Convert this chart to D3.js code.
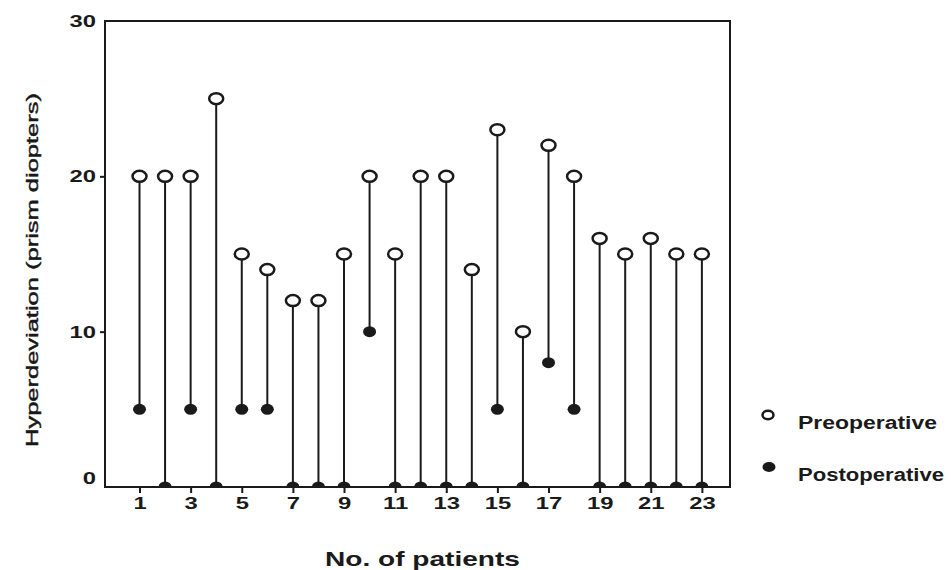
<!DOCTYPE html>
<html><head><meta charset="utf-8">
<script src="https://cdn.jsdelivr.net/npm/d3@7"></script>
<style>
html,body{margin:0;padding:0;background:#fff;}
text{font-family:"Liberation Sans",Arial,sans-serif;fill:#1a1a1a;}
</style></head>
<body>
<svg id="c" width="951" height="570"></svg>
<script>
// Data
const patients = d3.range(1, 24);
const preoperative  = [20,20,20,25,15,14,12,12,15,20,15,20,20,14,23,10,22,20,16,15,16,15,15];
const postoperative = [5,0,5,0,5,5,0,0,0,10,0,0,0,0,5,0,8,5,0,0,0,0,0];
const yTicks = [0,10,20,30];
const xTicks = [1,3,5,7,9,11,13,15,17,19,21,23];
const yTitle = "Hyperdeviation (prism diopters)";
const xTitle = "No. of patients";
const legendLabels = ["Preoperative","Postoperative"];

const svg = d3.select("#c");
const L = 105, R = 730, T = 21, B = 487;
const x = d3.scaleLinear().domain([-0.35, 24.1]).range([L, R]);
const y = d3.scaleLinear().domain([0, 30]).range([B, T]);
const ink = "#1a1a1a";
const stretch = 1.4;

function widen(sel, f){
  sel.each(function(){
    const w = this.getComputedTextLength();
    d3.select(this).attr("textLength", w*f).attr("lengthAdjust","spacingAndGlyphs");
  });
}

svg.append("defs").append("clipPath").attr("id","plot")
  .append("rect").attr("x",L).attr("y",T-20).attr("width",R-L).attr("height",B-T+20);

const g = svg.append("g").attr("clip-path","url(#plot)");
const data = patients.map((p,i)=>({p, pre: preoperative[i], post: postoperative[i]}));

// stems
g.selectAll("line.stem").data(data).join("line")
  .attr("x1",d=>x(d.p)).attr("x2",d=>x(d.p))
  .attr("y1",d=>y(d.pre)).attr("y2",d=>y(d.post))
  .attr("stroke",ink).attr("stroke-width",2);

// postoperative filled
g.selectAll("ellipse.post").data(data).join("ellipse")
  .attr("cx",d=>x(d.p)).attr("cy",d=>y(d.post))
  .attr("rx",6.5).attr("ry",5.5).attr("fill",ink);

// preoperative open
g.selectAll("ellipse.pre").data(data).join("ellipse")
  .attr("cx",d=>x(d.p)).attr("cy",d=>y(d.pre))
  .attr("rx",7).attr("ry",5.5).attr("fill","#fff")
  .attr("stroke",ink).attr("stroke-width",2.5);

// frame
svg.append("rect").attr("x",L).attr("y",T).attr("width",R-L).attr("height",B-T)
  .attr("fill","none").attr("stroke",ink).attr("stroke-width",2);

// axes
const ya = svg.append("g").attr("transform",`translate(${L},0)`)
  .call(d3.axisLeft(y).tickValues(yTicks).tickSize(5).tickPadding(4).tickFormat(d3.format("d")));
ya.select(".domain").remove();
ya.selectAll(".tick line").attr("stroke",ink).attr("stroke-width",2)
  .attr("opacity",d=>(d===0||d===30)?0:1);
ya.selectAll(".tick text").attr("font-size",17).attr("font-weight","bold").attr("fill",ink)
  .attr("dy",d=>d===0?"-0.2em":"0.32em")
  .style("font-family","'Liberation Sans',Arial,sans-serif");
widen(ya.selectAll(".tick text"), stretch);

const xa = svg.append("g").attr("transform",`translate(0,${B})`)
  .call(d3.axisBottom(x).tickValues(xTicks).tickSize(6).tickPadding(4).tickFormat(d3.format("d")));
xa.select(".domain").remove();
xa.selectAll(".tick line").attr("stroke",ink).attr("stroke-width",2);
xa.selectAll(".tick text").attr("font-size",17).attr("font-weight","bold").attr("fill",ink)
  .style("font-family","'Liberation Sans',Arial,sans-serif");
widen(xa.selectAll(".tick text"), stretch);

// titles
svg.append("text").attr("x",(L+R)/2+5).attr("y",566).attr("text-anchor","middle")
  .attr("font-size",21).attr("font-weight","bold").attr("textLength",195)
  .attr("lengthAdjust","spacingAndGlyphs").text(xTitle);

svg.append("text").attr("transform","translate(38,270) rotate(-90)").attr("text-anchor","middle")
  .attr("font-size",16).attr("fill","#111").attr("stroke","#111").attr("stroke-width",0.4)
  .attr("textLength",354).attr("lengthAdjust","spacingAndGlyphs")
  .text(yTitle);

// legend
const lg = svg.append("g");
lg.append("ellipse").attr("cx",768).attr("cy",415).attr("rx",5.5).attr("ry",4.2)
  .attr("fill","#fff").attr("stroke",ink).attr("stroke-width",2.5);
lg.append("ellipse").attr("cx",769).attr("cy",467).attr("rx",6.5).attr("ry",5).attr("fill",ink);
lg.selectAll("text.leg").data(legendLabels).join("text")
  .attr("x",798).attr("y",(d,i)=>i===0?429:481)
  .attr("font-size",18).attr("font-weight","bold")
  .attr("textLength",(d,i)=>i===0?139:146).attr("lengthAdjust","spacingAndGlyphs")
  .text(d=>d);
</script>
</body></html>
